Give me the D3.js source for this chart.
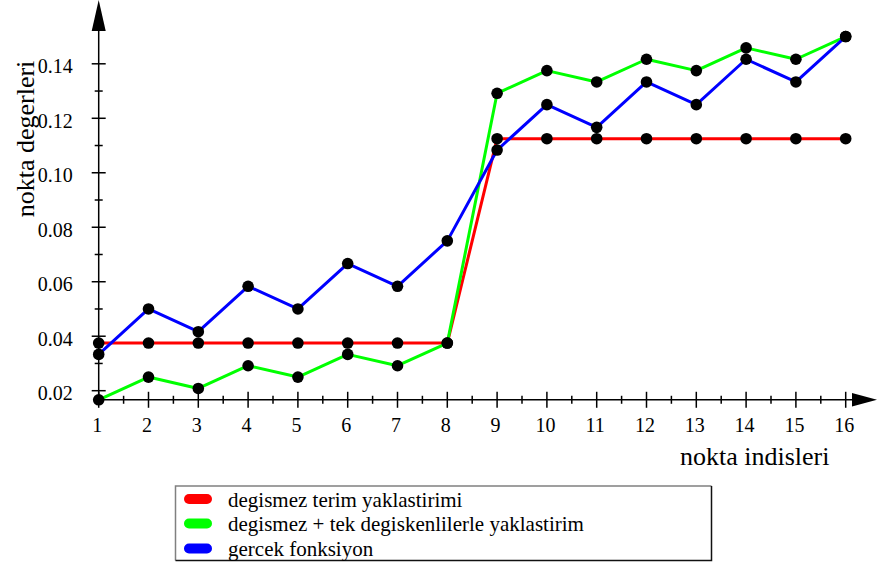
<!DOCTYPE html>
<html>
<head>
<meta charset="utf-8">
<script src="https://cdn.jsdelivr.net/npm/d3@7"></script>
<style>
  html, body { margin: 0; padding: 0; background: #fff; }
  svg { display: block; }
</style>
</head>
<body>
<svg id="chart" width="878" height="566"></svg>
<script>
// point indices on the horizontal axis
const indices = [1, 2, 3, 4, 5, 6, 7, 8, 9, 10, 11, 12, 13, 14, 15, 16];

// constant-term approximation
const constantApprox = [0.0375, 0.0375, 0.0375, 0.0375, 0.0375, 0.0375, 0.0375, 0.0375,
                        0.1125, 0.1125, 0.1125, 0.1125, 0.1125, 0.1125, 0.1125, 0.1125];

// constant + single-variable approximation
const singleVarApprox = [0.016667, 0.025, 0.020833, 0.029167, 0.025, 0.033333, 0.029167, 0.0375,
                         0.129167, 0.1375, 0.133333, 0.141667, 0.1375, 0.145833, 0.141667, 0.15];

// true function values
const trueFunction = [0.033333, 0.05, 0.041667, 0.058333, 0.05, 0.066667, 0.058333, 0.075,
                      0.108333, 0.125, 0.116667, 0.133333, 0.125, 0.141667, 0.133333, 0.15];

const yMajorTicks = [0.02, 0.04, 0.06, 0.08, 0.10, 0.12, 0.14];
const yMinorTicks = [0.03, 0.05, 0.07, 0.09, 0.11, 0.13];
const xMinorTicks = [1.5, 2.5, 3.5, 4.5, 5.5, 6.5, 7.5, 8.5, 9.5, 10.5, 11.5, 12.5, 13.5, 14.5, 15.5];

const seriesNames = ["degismez terim yaklastirimi",
                     "degismez + tek degiskenlilerle yaklastirim",
                     "gercek fonksiyon"];
const seriesColors = ["#ff0000", "#00ff00", "#0000ff"];
const seriesValues = [constantApprox, singleVarApprox, trueFunction];

const xTitle = "nokta indisleri";
const yTitle = "nokta degerleri";

const FONT = "'Liberation Serif', 'Times New Roman', Times, serif";

const svg = d3.select("#chart");

const x = d3.scaleLinear().domain([1, 16]).range([98.7, 845.7]);
const y = d3.scaleLinear().domain([0.02, 0.14]).range([390.7, 63.8]);

const axisY = y(d3.min(singleVarApprox));   // horizontal axis sits at the lowest value
const axisX = x(1);

const axes = svg.append("g").attr("stroke", "#000").attr("stroke-width", 1.5);

// main axis lines
axes.append("line").attr("x1", axisX).attr("x2", 855).attr("y1", axisY).attr("y2", axisY);
axes.append("line").attr("x1", axisX).attr("x2", axisX).attr("y1", axisY).attr("y2", 28);

// arrow heads
svg.append("path")
  .attr("d", `M877,${axisY} L852,${axisY - 6.8} L852,${axisY + 6.8} Z`)
  .attr("fill", "#000");
svg.append("path")
  .attr("d", `M${axisX},0 L${axisX - 7},31 L${axisX + 7},31 Z`)
  .attr("fill", "#000");

// x ticks
axes.selectAll(".xmaj").data(indices).join("line")
  .attr("class", "xmaj")
  .attr("x1", d => x(d)).attr("x2", d => x(d))
  .attr("y1", axisY - 8).attr("y2", axisY + 8);
axes.selectAll(".xmin").data(xMinorTicks).join("line")
  .attr("class", "xmin")
  .attr("x1", d => x(d)).attr("x2", d => x(d))
  .attr("y1", axisY - 4).attr("y2", axisY + 4);

// y ticks
axes.selectAll(".ymaj").data(yMajorTicks).join("line")
  .attr("class", "ymaj")
  .attr("x1", axisX - 7).attr("x2", axisX + 7)
  .attr("y1", d => y(d)).attr("y2", d => y(d));
axes.selectAll(".ymin").data(yMinorTicks).join("line")
  .attr("class", "ymin")
  .attr("x1", axisX - 4).attr("x2", axisX + 4)
  .attr("y1", d => y(d)).attr("y2", d => y(d));

// tick labels
svg.append("g").selectAll("text").data(indices).join("text")
  .attr("x", d => x(d) - 1.5)
  .attr("y", 432)
  .attr("text-anchor", "middle")
  .attr("font-family", FONT)
  .attr("font-size", 20)
  .attr("fill", "#000")
  .text(d => d);

svg.append("g").selectAll("text").data(yMajorTicks).join("text")
  .attr("x", axisX - 26)
  .attr("y", d => y(d) + 9.5)
  .attr("text-anchor", "end")
  .attr("font-family", FONT)
  .attr("font-size", 20)
  .attr("fill", "#000")
  .text(d => d3.format(".2f")(d));

// axis titles
svg.append("text")
  .attr("x", 680)
  .attr("y", 465)
  .attr("font-family", FONT)
  .attr("font-size", 26)
  .attr("fill", "#000")
  .text(xTitle);

svg.append("text")
  .attr("transform", "translate(33.5,139) rotate(-90)")
  .attr("text-anchor", "middle")
  .attr("font-family", FONT)
  .attr("font-size", 26)
  .attr("fill", "#000")
  .text(yTitle);

// series lines
const line = d3.line()
  .x((d, i) => x(indices[i]))
  .y(d => y(d));

svg.append("g").selectAll("path").data(seriesValues).join("path")
  .attr("d", d => line(d))
  .attr("fill", "none")
  .attr("stroke", (d, i) => seriesColors[i])
  .attr("stroke-width", 3)
  .attr("stroke-linejoin", "round");

// data points
const dots = svg.append("g");
seriesValues.forEach(vals => {
  dots.selectAll(null).data(vals).join("circle")
    .attr("cx", (d, i) => x(indices[i]))
    .attr("cy", d => y(d))
    .attr("r", 5.8)
    .attr("fill", "#000");
});

// legend
const legend = svg.append("g");
legend.append("rect")
  .attr("x", 175.5).attr("y", 486).attr("width", 536).attr("height", 74.5)
  .attr("fill", "#fff").attr("stroke", "none");
legend.append("path")
  .attr("d", "M175.5,560.5 L175.5,486 L711.5,486")
  .attr("fill", "none").attr("stroke", "#808080").attr("stroke-width", 1.5);
legend.append("path")
  .attr("d", "M711.5,486 L711.5,560.5 L175.5,560.5")
  .attr("fill", "none").attr("stroke", "#111").attr("stroke-width", 1.5);

const rowY = [499, 523.5, 548.5];
legend.selectAll(".sw").data(seriesNames).join("rect")
  .attr("class", "sw")
  .attr("x", 184).attr("y", (d, i) => rowY[i] - 5)
  .attr("width", 28).attr("height", 10).attr("rx", 5)
  .attr("fill", (d, i) => seriesColors[i]);
legend.selectAll(".lt").data(seriesNames).join("text")
  .attr("class", "lt")
  .attr("x", 228)
  .attr("y", (d, i) => rowY[i] + 7.5)
  .attr("font-family", FONT)
  .attr("font-size", 21)
  .attr("fill", "#000")
  .text(d => d);
</script>
</body>
</html>
